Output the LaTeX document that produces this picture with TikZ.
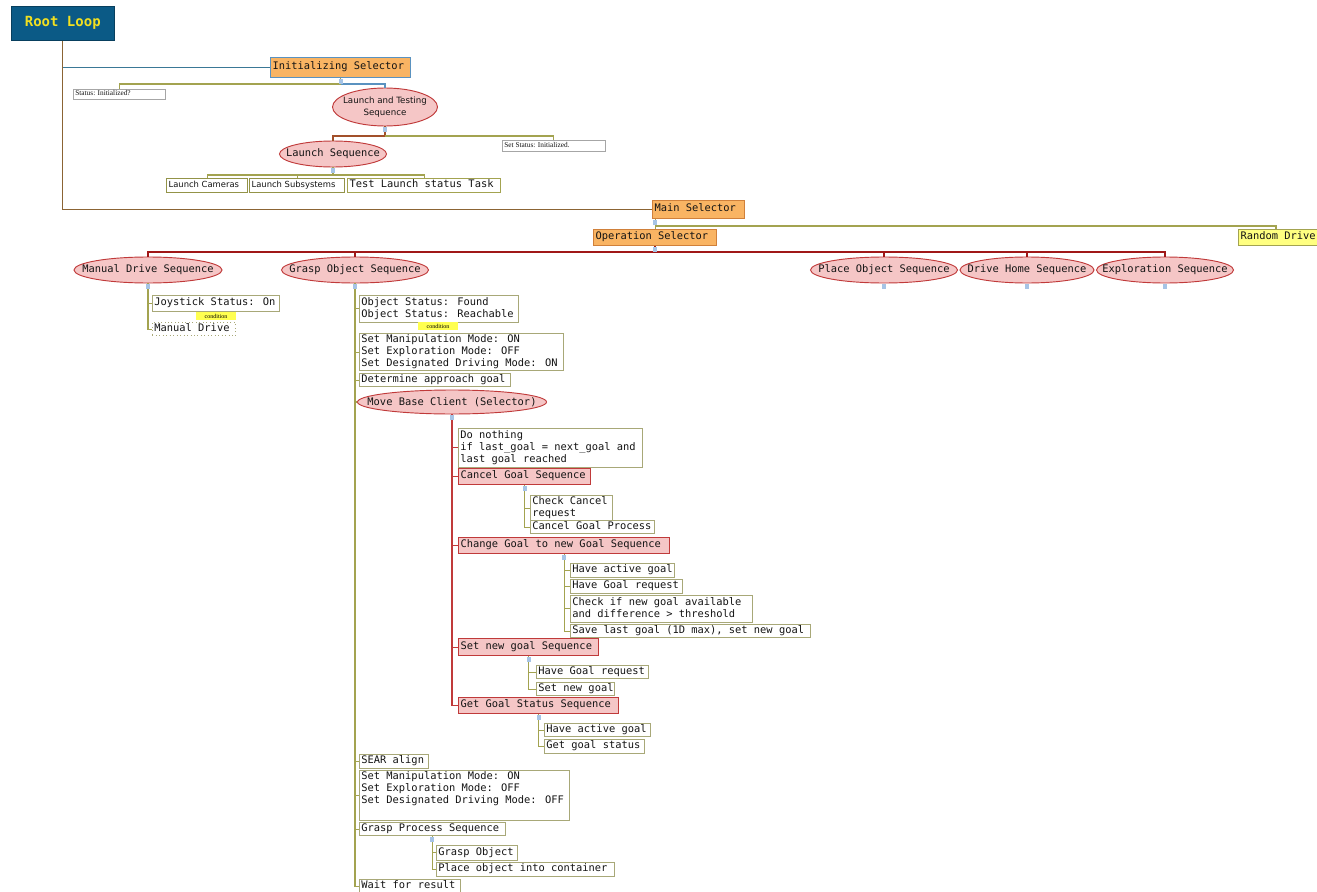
\documentclass[tikz,border=0pt]{standalone}
\usepackage{fontspec}
\usetikzlibrary{shapes.geometric}
\newfontfamily\monof{DejaVu Sans Mono}
\newfontfamily\sansf{DejaVu Sans}
\newfontfamily\seriff{Liberation Serif}
\definecolor{olivec}{HTML}{A3A350}
\definecolor{leafb}{HTML}{A8A878}
\definecolor{txt}{HTML}{141414}
\definecolor{pinkf}{HTML}{F5C6C6}
\definecolor{redb}{HTML}{C03A3A}
\definecolor{darkred}{HTML}{A01818}
\definecolor{brownc}{HTML}{8B6434}
\definecolor{tealc}{HTML}{3A7896}
\definecolor{bluec}{HTML}{5A92C0}
\definecolor{orangef}{HTML}{F9B463}
\definecolor{oranged}{HTML}{D0803A}
\definecolor{rootf}{HTML}{0B5A86}
\definecolor{roott}{HTML}{F2E020}
\definecolor{yellowf}{HTML}{FFFF80}
\definecolor{condf}{HTML}{FFFF50}
\definecolor{markc}{HTML}{A6C4E6}
\newcommand\mkbox[7][leaf]{%
  \pgfmathsetmacro\tw{#5*0.75-3}%
  \node[#1, text width=\tw pt, minimum height=#6*0.75pt] (#2) at (#3,#4)
    {\begin{tabular}{@{}l@{}}#7\end{tabular}};}
\newcommand\mkell[7][mfont]{%
  \node[ell, minimum width=#5*0.75pt, minimum height=#6*0.75pt] (#2) at (#3,#4) {};
  \node[#1, text=txt, align=center, inner sep=0pt] (#2-t) at (#2.center) {#7};}
\begin{document}
\begin{tikzpicture}[x=0.75pt,y=-0.75pt,
  mfont/.style={font=\monof\fontsize{7.8pt}{9pt}\selectfont},
  leaf/.style={draw=leafb, fill=white, line width=0.6pt, anchor=north west, align=flush left,
    inner xsep=1.5pt, inner ysep=0.5pt, mfont, text=txt},
  seqbox/.style={leaf, draw=redb, fill=pinkf, line width=0.8pt},
  selbox/.style={leaf, draw=oranged, fill=orangef, line width=0.8pt},
  ell/.style={ellipse, draw=redb, fill=pinkf, line width=0.7pt, inner sep=0pt},
  ssmall/.style={font=\sansf\fontsize{6.5pt}{9pt}\selectfont},
  tiny/.style={leaf, font=\seriff\fontsize{5.5pt}{6pt}\selectfont, draw=gray!70, line width=0.5pt},
  sbox/.style={leaf, font=\sansf\fontsize{6.3pt}{7pt}\selectfont, draw=olivec!90!black, line width=0.9pt},
  cond/.style={fill=condf, font=\seriff\fontsize{4.5pt}{5pt}\selectfont, inner sep=0.5pt,
    minimum width=30pt, minimum height=6pt},
  cn/.style={draw=olivec, line width=0.8pt},
  mk/.style={fill=markc, minimum width=3pt, minimum height=3.5pt, inner sep=0pt}
]
\useasboundingbox (0,0) rectangle (1317,892);
\clip (0,0) rectangle (1317,892);

% ---------- top part ----------
\node[draw=rootf!70!black, fill=rootf, text=roott, font=\monof\bfseries\fontsize{10.5pt}{12pt}\selectfont,
  minimum width=103*0.75pt, minimum height=34*0.75pt, inner sep=0pt, anchor=north west] (root) at (11,6) {Root Loop};
\mkbox[selbox, draw=bluec]{init}{270}{57}{140}{20}{Initializing Selector}
\mkbox[tiny]{stinit}{73}{89}{92}{10}{Status: Initialized?}
\mkell[ssmall]{lat}{385}{107}{105}{38}{Launch and Testing\\Sequence}
\mkell{ls}{333}{154}{107}{26}{Launch Sequence}
\mkbox[tiny]{setst}{502}{140}{103}{11}{Set Status: Initialized.}
\mkbox[sbox]{lc}{166}{178}{81}{14}{Launch Cameras}
\mkbox[sbox]{lsub}{249}{178}{95}{14}{Launch Subsystems}
\mkbox[leaf, draw=olivec, line width=0.8pt]{tl}{347}{178}{153}{14}{Test Launch status Task}

\mkbox[selbox]{main}{652}{200}{92}{18}{Main Selector}
\mkbox[selbox]{op}{593}{229}{123}{16}{Operation Selector}
\mkbox[leaf, draw=olivec, fill=yellowf, line width=0.8pt]{rd}{1238}{229}{90}{16}{Random Drive}

\mkell{mds}{148}{270}{148}{26}{Manual Drive Sequence}
\mkell{gos}{355}{270}{147}{26}{Grasp Object Sequence}
\mkell{pos}{884}{270}{147}{26}{Place Object Sequence}
\mkell{dhs}{1027}{270}{134}{26}{Drive Home Sequence}
\mkell{exs}{1165}{270}{137}{26}{Exploration Sequence}

% ---------- manual drive ----------
\mkbox{joy}{152}{295}{127}{16}{Joystick Status: On}
\node[cond] (cond1) at (216,316) {condition};
\mkbox[leaf, dotted]{md}{152}{322}{83}{13}{Manual Drive}

% ---------- grasp object ----------
\mkbox{os}{359}{295}{159}{27}{Object Status: Found\\Object Status: Reachable}
\node[cond] (cond2) at (438,326) {condition};
\mkbox{sm1}{359}{333}{204}{37}{Set Manipulation Mode: ON\\Set Exploration Mode: OFF\\Set Designated Driving Mode: ON}
\mkbox{dag}{359}{373}{151}{13}{Determine approach goal}
\mkell{mbc}{452}{402}{189}{24}{Move Base Client (Selector)}
\mkbox{sear}{359}{754}{69}{14}{SEAR align}
\mkbox{sm2}{359}{770}{210}{50}{Set Manipulation Mode: ON\\Set Exploration Mode: OFF\\Set Designated Driving Mode: OFF\\\mbox{}}
\mkbox{gps}{359}{822}{146}{13}{Grasp Process Sequence}
\mkbox{wfr}{359}{879}{101}{13}{Wait for result}
\mkbox{go}{436}{845}{81}{15}{Grasp Object}
\mkbox{po}{436}{862}{178}{14}{Place object into container}

% ---------- move base client ----------
\mkbox{dn}{458}{428}{184}{39}{Do nothing\\if last\_goal = next\_goal and\\last goal reached}
\mkbox[seqbox]{cgs}{458}{468}{132}{16}{Cancel Goal Sequence}
\mkbox[seqbox]{chg}{458}{537}{211}{16}{Change Goal to new Goal Sequence}
\mkbox[seqbox]{sng}{458}{638}{140}{17}{Set new goal Sequence}
\mkbox[seqbox]{ggs}{458}{697}{160}{16}{Get Goal Status Sequence}

\mkbox{ccr}{530}{495}{82}{23}{Check Cancel\\request}
\mkbox{cgp}{530}{520}{124}{13}{Cancel Goal Process}

\mkbox{hag1}{570}{563}{104}{14}{Have active goal}
\mkbox{hgr1}{570}{579}{112}{14}{Have Goal request}
\mkbox{cin}{570}{595}{182}{27}{Check if new goal available\\and difference > threshold}
\mkbox{slg}{570}{624}{240}{13}{Save last goal (1D max), set new goal}

\mkbox{hgr2}{536}{665}{112}{13}{Have Goal request}
\mkbox{sng2}{536}{682}{78}{12}{Set new goal}

\mkbox{hag2}{544}{723}{106}{13}{Have active goal}
\mkbox{ggst}{544}{739}{100}{14}{Get goal status}

% ---------- connectors ----------
\draw[draw=brownc, line width=0.9pt] (root.south) |- (main.west);
\draw[draw=tealc, line width=0.9pt] (root.south |- init.west) -- (init.west);
\draw[cn] (init.south) -- (init.south |- 0,84) -| (stinit.north);
\draw[draw=bluec, line width=0.8pt] (init.south |- 0,84) -| (lat.north);
\draw[draw=brownc!80!red, line width=0.8pt] (lat.south) -- (lat.south |- 0,136) -| (ls.north);
\draw[cn] (lat.south |- 0,136) -| (setst.north);
\draw[cn] (ls.south) -- (ls.south |- 0,175) -| (lc.north);
\draw[cn] (ls.south |- 0,175) -| (lsub.north);
\draw[cn] (ls.south |- 0,175) -| (tl.north);

\draw[cn] (op.north |- main.south) -- (op.north);
\draw[cn] (op.north |- 0,226) -| ([xshift=28.5pt]rd.north west);

\draw[draw=darkred, line width=0.9pt] (op.south) -- (op.south |- 0,252) -| (mds.north);
\foreach \c in {gos,pos,dhs,exs}
  \draw[draw=darkred, line width=0.9pt] (op.south |- 0,252) -| (\c.north);

\foreach \c in {joy,md}
  \draw[cn] (mds.south) |- (\c.west);
\foreach \c in {os,sm1,dag,mbc,sear,sm2,gps,wfr}
  \draw[cn] (gos.south) |- (\c.west);
\foreach \c in {go,po}
  \draw[cn] (gps.south) |- (\c.west);
\foreach \c in {dn,cgs,chg,sng,ggs}
  \draw[draw=redb, line width=0.8pt] (mbc.south) |- (\c.west);
\foreach \c in {ccr,cgp}
  \draw[cn] (cgs.south) |- (\c.west);
\foreach \c in {hag1,hgr1,cin,slg}
  \draw[cn] (chg.south) |- (\c.west);
\foreach \c in {hgr2,sng2}
  \draw[cn] (sng.south) |- (\c.west);
\foreach \c in {hag2,ggst}
  \draw[cn] (ggs.south) |- (\c.west);

% ---------- markers ----------
\foreach \p/\n in {init/m1,lat/m2,ls/m3,mds/m5,gos/m6,pos/m7,dhs/m8,exs/m9,mbc/m10,cgs/m11,chg/m12,sng/m13,ggs/m14,gps/m15}
  \node[mk] (\n) at ([yshift=-2.5pt]\p.south) {};
\node[mk] (m4) at ([xshift=2.25pt,yshift=-2.5pt]main.south west) {};
\node[mk] (m16) at ([yshift=-2.5pt]op.south) {};
\end{tikzpicture}
\end{document}
